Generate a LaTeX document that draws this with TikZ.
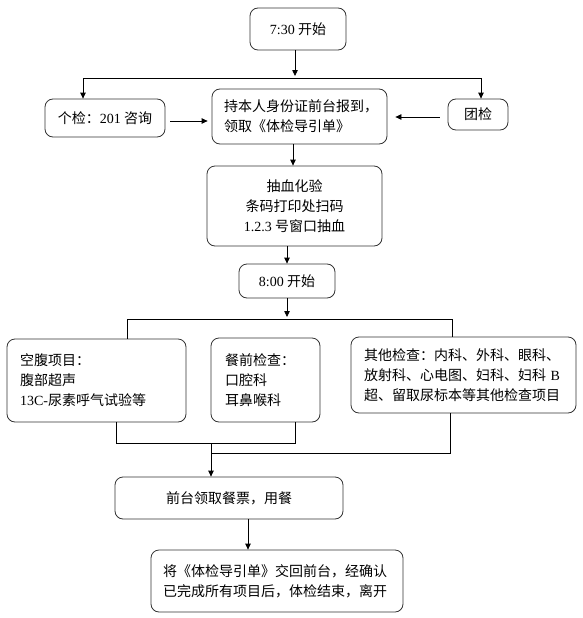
\documentclass[tikz,border=0pt]{standalone}
\usepackage{fontspec}
\setmainfont{Liberation Serif}
\newfontfamily\cjk{Noto Sans CJK SC}
\usetikzlibrary{arrows.meta}
\newcommand\lat[1]{{\rmfamily #1}}
\tikzset{
  box/.style={draw=black!80, line width=0.8pt, rounded corners=8pt, inner ysep=0pt,
    font=\cjk\fontsize{14}{20}\selectfont},
  cbox/.style={box, align=center, inner xsep=0pt},
  lbox/.style={box, align=left},
  conn/.style={line width=0.8pt, draw=black},
  arr/.style={conn, -{Triangle[length=6pt,width=5.5pt]}}
}
\begin{document}
\begin{tikzpicture}[x=1pt,y=-1pt]
\useasboundingbox (0,0) rectangle (583,618);
% boxes
\node[cbox, minimum width=96pt, minimum height=42pt] (t) at (298,29) {\lat{7:30} 开始};
\node[cbox, minimum width=120pt, minimum height=38pt] (g) at (105,118) {个检：\lat{201} 咨询};
\node[lbox, inner xsep=12pt, text width=151pt, minimum height=55pt] (c) at (299.5,116.5) {持本人身份证前台报到，\\领取《体检导引单》};
\node[cbox, minimum width=60pt, minimum height=31pt] (tj) at (478,114.5) {团检};
\node[cbox, minimum width=175pt, minimum height=80pt] (b) at (294.5,206) {抽血化验\\条码打印处扫码\\\lat{1.2.3} 号窗口抽血};
\node[cbox, minimum width=96pt, minimum height=34pt] (e) at (287,281) {\lat{8:00} 开始};
\node[lbox, inner xsep=13pt, text width=153pt, minimum height=83pt] (k) at (96.5,380.5) {空腹项目：\\腹部超声\\\lat{13C-}尿素呼气试验等};
\node[lbox, inner xsep=14pt, text width=81pt, minimum height=84pt] (m) at (265.5,380) {餐前检查：\\口腔科\\耳鼻喉科};
\node[lbox, inner xsep=13pt, text width=199pt, minimum height=76pt] (o) at (463.5,375) {其他检查：内科、外科、眼科、\\放射科、心电图、妇科、妇科 \lat{B}\\超、留取尿标本等其他检查项目};
\node[cbox, minimum width=228pt, minimum height=42pt] (f) at (229,498) {前台领取餐票，用餐};
\node[lbox, inner xsep=12pt, text width=228pt, minimum height=62pt] (z) at (277,581) {将《体检导引单》交回前台，经确认\\已完成所有项目后，体检结束，离开};
% junction coordinates
\coordinate (j1) at (295,76);
\coordinate (bl) at (83,78);
\coordinate (br) at (481,78);
\coordinate (j2) at (287,317);
\coordinate (cl) at (127,319);
\coordinate (cr) at (452,319);
\coordinate (d1) at (116,443);
\coordinate (d2) at (295,443);
\coordinate (d3) at (211,443);
\coordinate (d4) at (211,453);
\coordinate (d5) at (450,453);
% connectors
\draw[arr] (t.south -| j1) -- (j1);
\draw[conn] (bl) -- (br);
\draw[arr] (bl) -- (bl |- g.north);
\draw[arr] (br) -- (br |- tj.north);
\draw[arr, shorten <=5pt, shorten >=4pt] (g.east |- 0,121) -- (c.west |- 0,121);
\draw[arr, shorten <=8pt, shorten >=8pt] (tj.west |- 0,117) -- (c.east |- 0,117);
\draw[arr] (c.south -| 293,0) -- (b.north -| 293,0);
\draw[arr] (b.south -| e.north) -- (e.north);
\draw[arr] (e.south) -- (j2);
\draw[conn] (cl) -- (cr);
\draw[conn] (cl) -- (cl |- k.north);
\draw[conn] (cr) -- (cr |- o.north);
\draw[conn] (d1 |- k.south) -- (d1) -- (d2) -- (d2 |- m.south);
\draw[arr] (d3) -- (d3 |- f.north);
\draw[conn] (d4) -- (d5) -- (d5 |- o.south);
\draw[arr] (f.south -| 248,0) -- (z.north -| 248,0);
\end{tikzpicture}
\end{document}
